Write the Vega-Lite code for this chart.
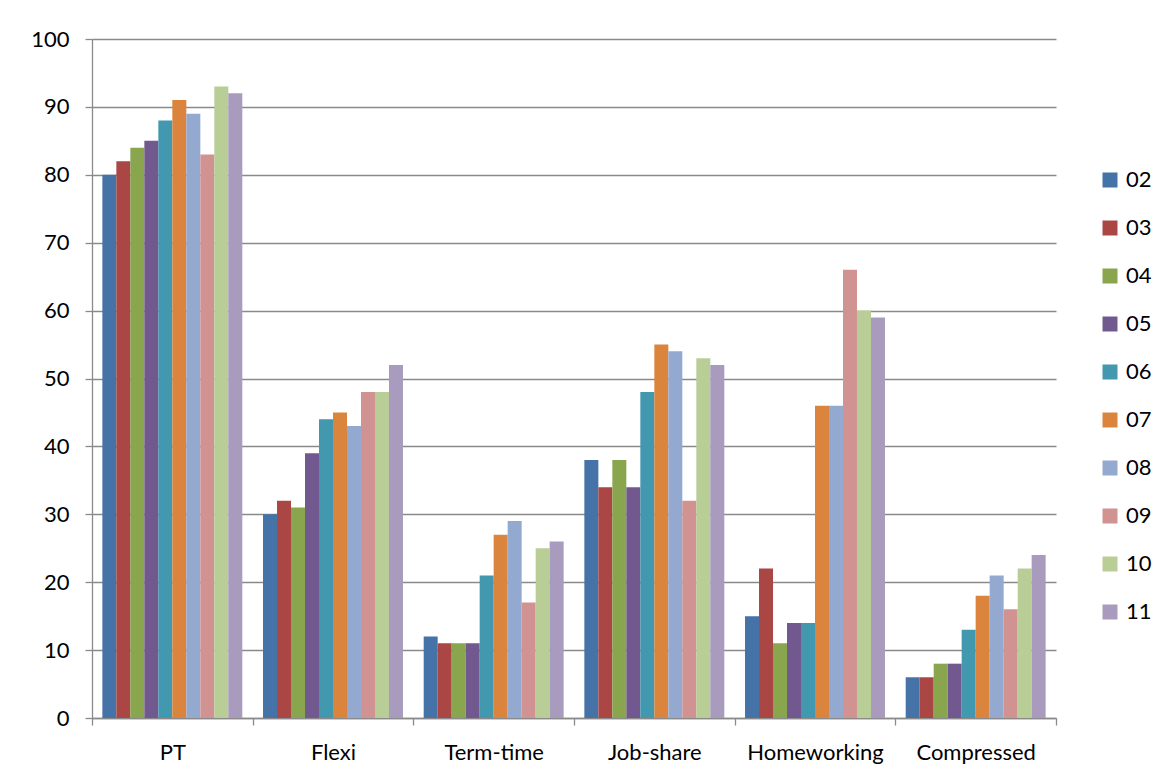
{
  "$schema": "https://vega.github.io/schema/vega-lite/v6.json",
  "width": 964,
  "height": 679,
  "autosize": {"type": "none"},
  "padding": {"left": 92, "top": 39, "right": 111, "bottom": 60},
  "background": "white",
  "config": {
    "view": {"stroke": null},
    "font": "Lato",
    "axis": {
      "labelFont": "Lato",
      "labelFontSize": 22,
      "labelColor": "black",
      "domainColor": "#8a8a8a",
      "domainWidth": 1.3,
      "tickColor": "#8a8a8a",
      "tickWidth": 1.3,
      "tickSize": 7,
      "gridColor": "#8a8a8a",
      "gridWidth": 1.3
    },
    "legend": {
      "labelFont": "Lato",
      "labelFontSize": 22,
      "labelColor": "black"
    }
  },
  "data": {
    "values": [
      {"type": "PT", "year": "02", "pct": 80},
      {"type": "PT", "year": "03", "pct": 82},
      {"type": "PT", "year": "04", "pct": 84},
      {"type": "PT", "year": "05", "pct": 85},
      {"type": "PT", "year": "06", "pct": 88},
      {"type": "PT", "year": "07", "pct": 91},
      {"type": "PT", "year": "08", "pct": 89},
      {"type": "PT", "year": "09", "pct": 83},
      {"type": "PT", "year": "10", "pct": 93},
      {"type": "PT", "year": "11", "pct": 92},
      {"type": "Flexi", "year": "02", "pct": 30},
      {"type": "Flexi", "year": "03", "pct": 32},
      {"type": "Flexi", "year": "04", "pct": 31},
      {"type": "Flexi", "year": "05", "pct": 39},
      {"type": "Flexi", "year": "06", "pct": 44},
      {"type": "Flexi", "year": "07", "pct": 45},
      {"type": "Flexi", "year": "08", "pct": 43},
      {"type": "Flexi", "year": "09", "pct": 48},
      {"type": "Flexi", "year": "10", "pct": 48},
      {"type": "Flexi", "year": "11", "pct": 52},
      {"type": "Term-time", "year": "02", "pct": 12},
      {"type": "Term-time", "year": "03", "pct": 11},
      {"type": "Term-time", "year": "04", "pct": 11},
      {"type": "Term-time", "year": "05", "pct": 11},
      {"type": "Term-time", "year": "06", "pct": 21},
      {"type": "Term-time", "year": "07", "pct": 27},
      {"type": "Term-time", "year": "08", "pct": 29},
      {"type": "Term-time", "year": "09", "pct": 17},
      {"type": "Term-time", "year": "10", "pct": 25},
      {"type": "Term-time", "year": "11", "pct": 26},
      {"type": "Job-share", "year": "02", "pct": 38},
      {"type": "Job-share", "year": "03", "pct": 34},
      {"type": "Job-share", "year": "04", "pct": 38},
      {"type": "Job-share", "year": "05", "pct": 34},
      {"type": "Job-share", "year": "06", "pct": 48},
      {"type": "Job-share", "year": "07", "pct": 55},
      {"type": "Job-share", "year": "08", "pct": 54},
      {"type": "Job-share", "year": "09", "pct": 32},
      {"type": "Job-share", "year": "10", "pct": 53},
      {"type": "Job-share", "year": "11", "pct": 52},
      {"type": "Homeworking", "year": "02", "pct": 15},
      {"type": "Homeworking", "year": "03", "pct": 22},
      {"type": "Homeworking", "year": "04", "pct": 11},
      {"type": "Homeworking", "year": "05", "pct": 14},
      {"type": "Homeworking", "year": "06", "pct": 14},
      {"type": "Homeworking", "year": "07", "pct": 46},
      {"type": "Homeworking", "year": "08", "pct": 46},
      {"type": "Homeworking", "year": "09", "pct": 66},
      {"type": "Homeworking", "year": "10", "pct": 60},
      {"type": "Homeworking", "year": "11", "pct": 59},
      {"type": "Compressed", "year": "02", "pct": 6},
      {"type": "Compressed", "year": "03", "pct": 6},
      {"type": "Compressed", "year": "04", "pct": 8},
      {"type": "Compressed", "year": "05", "pct": 8},
      {"type": "Compressed", "year": "06", "pct": 13},
      {"type": "Compressed", "year": "07", "pct": 18},
      {"type": "Compressed", "year": "08", "pct": 21},
      {"type": "Compressed", "year": "09", "pct": 16},
      {"type": "Compressed", "year": "10", "pct": 22},
      {"type": "Compressed", "year": "11", "pct": 24}
    ]
  },
  "mark": "bar",
  "encoding": {
    "x": {
      "field": "type",
      "type": "nominal",
      "sort": ["PT", "Flexi", "Term-time", "Job-share", "Homeworking", "Compressed"],
      "scale": {"paddingInner": 0, "paddingOuter": 0},
      "axis": {
        "title": null,
        "labelAngle": 0,
        "tickBand": "extent",
        "labelPadding": 17,
        "grid": false
      }
    },
    "xOffset": {
      "field": "year",
      "type": "nominal",
      "scale": {"paddingInner": 0, "paddingOuter": 0.74}
    },
    "y": {
      "field": "pct",
      "type": "quantitative",
      "scale": {"domain": [0, 100], "nice": false},
      "axis": {
        "title": null,
        "values": [0, 10, 20, 30, 40, 50, 60, 70, 80, 90, 100],
        "labelPadding": 16
      }
    },
    "color": {
      "field": "year",
      "type": "nominal",
      "scale": {
        "domain": ["02", "03", "04", "05", "06", "07", "08", "09", "10", "11"],
        "range": ["#4572a7", "#aa4643", "#89a54e", "#71588f", "#4198af", "#db843d", "#93a9cf", "#d19392", "#b9cd96", "#a99bbd"]
      },
      "legend": {
        "title": null,
        "orient": "none",
        "legendX": 1007,
        "legendY": 130,
        "padding": 0,
        "symbolType": "square",
        "symbolSize": 225,
        "symbolStrokeWidth": 0,
        "rowPadding": 26,
        "labelOffset": 5
      }
    }
  }
}
